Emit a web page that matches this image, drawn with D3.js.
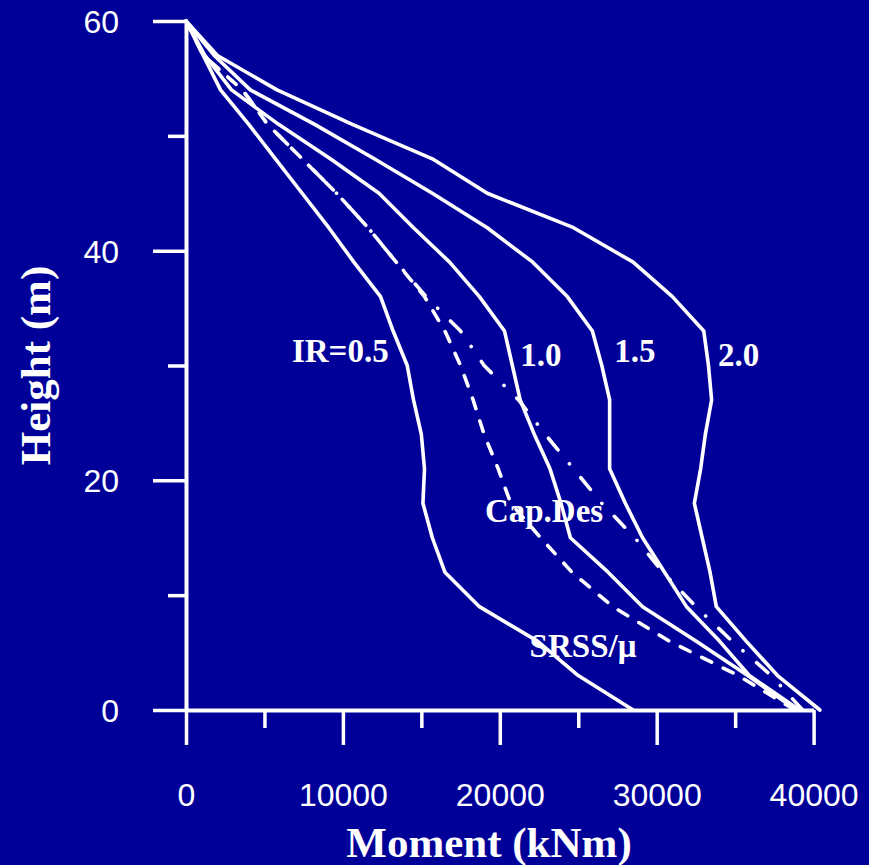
<!DOCTYPE html>
<html>
<head>
<meta charset="utf-8">
<script src="https://cdn.jsdelivr.net/npm/d3@7"></script>
<style>
  html, body { margin: 0; padding: 0; background: #000099; }
  svg { display: block; }
</style>
</head>
<body>
<svg id="chart" width="869" height="865"></svg>
<script>
// ---- data ----
const heights = [0, 3, 6, 9, 12, 15, 18, 21, 24, 27, 30, 33, 36, 39, 42, 45, 48, 51, 54, 57, 60];
const ir05 = [28500, 25000, 22400, 18700, 16500, 15700, 15100, 15200, 15000, 14500, 14100, 13200, 12400, 10700, 9100, 7400, 5700, 4000, 2200, 1100, 0];
const ir10 = [38900, 35800, 32500, 29100, 26900, 24500, 23900, 23200, 22200, 21300, 20800, 20300, 18700, 16800, 14500, 12300, 9200, 5900, 2900, 1200, 0];
const ir15 = [39100, 35900, 34000, 31900, 30500, 29100, 28000, 27000, 27000, 27000, 26500, 25900, 24300, 22100, 19200, 15700, 12000, 8200, 4100, 1800, 0];
const ir20 = [40400, 37700, 35700, 33800, 33400, 32900, 32400, 32800, 33100, 33500, 33300, 33000, 31000, 28500, 24700, 19200, 15700, 10600, 5800, 2000, 0];
const srss = [38800, 35200, 30800, 27200, 24600, 22600, 20700, 19900, 19000, 18300, 17500, 16500, 15200, 13400, 11600, 9600, 7400, 5200, 3600, 1100, 0];
const capDes = [39300, 37300, 34800, 32500, 30400, 28600, 26500, 24700, 22900, 21200, 19000, 17500, 15300, 13400, 11600, 9600, 7400, 5200, 3600, 1100, 0];

const xMajorTicks = [0, 10000, 20000, 30000, 40000];
const xMinorTicks = [5000, 15000, 25000, 35000];
const yMajorTicks = [0, 20, 40, 60];
const yMinorTicks = [10, 30, 50];

const curveLabels = [
  { text: "IR=0.5", x: 6750, y: 30.3 },
  { text: "1.0", x: 21300, y: 30 },
  { text: "1.5", x: 27300, y: 30.3 },
  { text: "2.0", x: 33900, y: 30 },
  { text: "Cap.Des", x: 19050, y: 16.4 },
  { text: "SRSS/\u03bc", x: 21900, y: 4.6 }
];

// ---- drawing ----
const svg = d3.select("#chart");
const W = 869, H = 865;
const WHITE = "#ffffff";

svg.append("rect").attr("width", W).attr("height", H).attr("fill", "#000099");

const x = d3.scaleLinear().domain([0, 40000]).range([186, 813.6]);
const y = d3.scaleLinear().domain([0, 60]).range([710, 21]);

const line = d3.line().x(d => x(d[0])).y(d => y(d[1]));

const series = [
  { vals: ir05, dash: null },
  { vals: ir10, dash: null },
  { vals: ir15, dash: null },
  { vals: ir20, dash: null },
  { vals: srss, dash: "11,13" },
  { vals: capDes, dash: "15,18,0.1,18" }
];

series.forEach(s => {
  svg.append("path")
    .datum(s.vals.map((v, i) => [v, heights[i]]))
    .attr("d", line)
    .attr("fill", "none")
    .attr("stroke", WHITE)
    .attr("stroke-width", 3.6)
    .attr("stroke-linejoin", "round")
    .attr("stroke-linecap", "round")
    .attr("stroke-dasharray", s.dash);
});

// axes
function styleAxis(g) {
  g.selectAll("path.domain").attr("stroke", WHITE).attr("stroke-width", 4);
  g.selectAll(".tick line").attr("stroke", WHITE).attr("stroke-width", 3.5);
}

const xMajor = svg.append("g").attr("transform", `translate(0,${y(0)})`)
  .call(d3.axisBottom(x).tickValues(xMajorTicks).tickSize(35).tickSizeOuter(0).tickFormat(d3.format("d")));
styleAxis(xMajor);
xMajor.selectAll(".tick text")
  .attr("fill", WHITE)
  .attr("y", 96).attr("dy", 0)
  .attr("font-family", "'Liberation Sans', Arial, sans-serif")
  .attr("font-size", 32);

const xMinor = svg.append("g").attr("transform", `translate(0,${y(0)})`)
  .call(d3.axisBottom(x).tickValues(xMinorTicks).tickSize(18).tickSizeOuter(0).tickFormat(""));
styleAxis(xMinor);
xMinor.select("path.domain").remove();

const yMajor = svg.append("g").attr("transform", `translate(${x(0)},0)`)
  .call(d3.axisLeft(y).tickValues(yMajorTicks).tickSize(33).tickSizeOuter(0).tickFormat(d3.format("d")));
styleAxis(yMajor);
yMajor.selectAll(".tick text")
  .attr("fill", WHITE)
  .attr("x", -67).attr("dy", "0.36em")
  .attr("font-family", "'Liberation Sans', Arial, sans-serif")
  .attr("font-size", 32);

const yMinor = svg.append("g").attr("transform", `translate(${x(0)},0)`)
  .call(d3.axisLeft(y).tickValues(yMinorTicks).tickSize(18).tickSizeOuter(0).tickFormat(""));
styleAxis(yMinor);
yMinor.select("path.domain").remove();

// axis titles
svg.append("text")
  .attr("x", 489).attr("y", 857)
  .attr("text-anchor", "middle")
  .attr("fill", WHITE)
  .attr("font-family", "'Liberation Serif', 'Times New Roman', serif")
  .attr("font-weight", "bold")
  .attr("font-size", 43)
  .text("Moment (kNm)");

svg.append("text")
  .attr("transform", `translate(50,${(y(0) + y(60)) / 2}) rotate(-90)`)
  .attr("text-anchor", "middle")
  .attr("fill", WHITE)
  .attr("font-family", "'Liberation Serif', 'Times New Roman', serif")
  .attr("font-weight", "bold")
  .attr("font-size", 43)
  .text("Height (m)");

// curve labels
svg.selectAll("text.clabel")
  .data(curveLabels)
  .enter().append("text")
  .attr("class", "clabel")
  .attr("x", d => x(d.x))
  .attr("y", d => y(d.y))
  .attr("fill", WHITE)
  .attr("font-family", "'Liberation Serif', 'Times New Roman', serif")
  .attr("font-weight", "bold")
  .attr("font-size", 33)
  .text(d => d.text);
</script>
</body>
</html>
